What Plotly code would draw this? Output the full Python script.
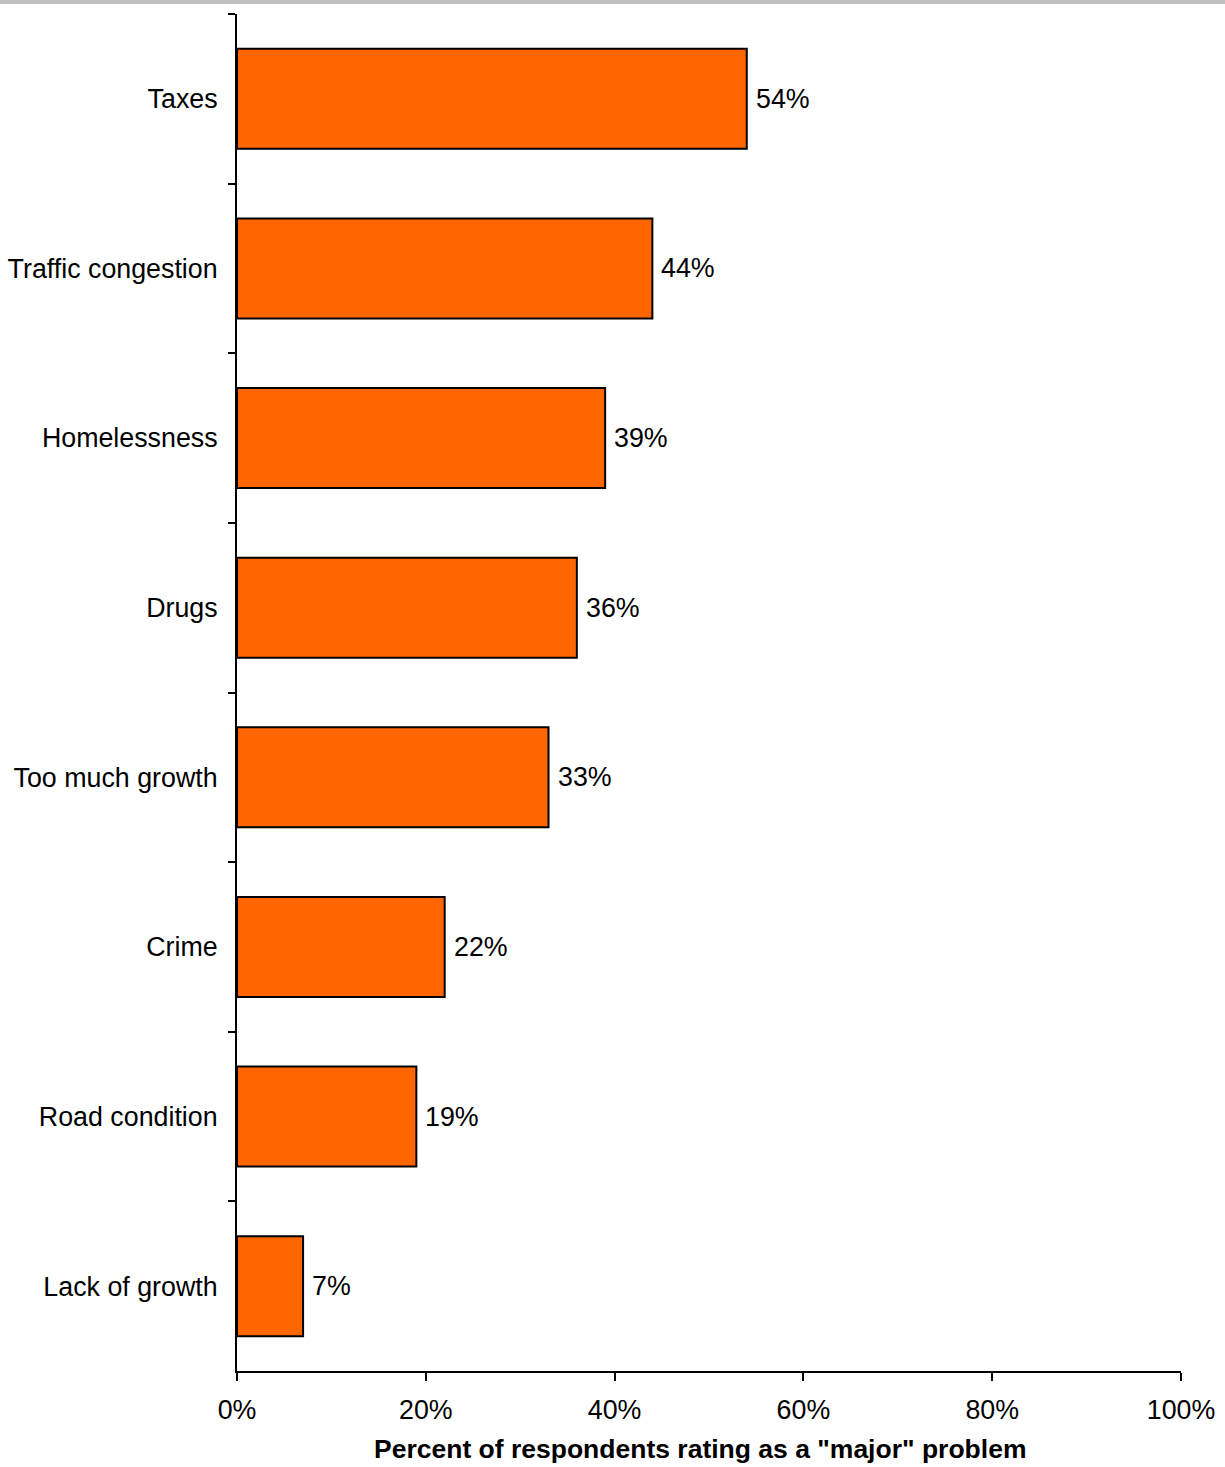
import plotly.graph_objects as go

# Survey results, listed top to bottom
issues = ["Taxes", "Traffic congestion", "Homelessness", "Drugs",
          "Too much growth", "Crime", "Road condition", "Lack of growth"]
pct_major = [54, 44, 39, 36, 33, 22, 19, 7]
x_ticks = [0, 20, 40, 60, 80, 100]
x_title = 'Percent of respondents rating as a "major" problem'

FONT = "Liberation Sans, Arial, sans-serif"
SIZE = 26.8

fig = go.Figure(
    go.Bar(
        x=pct_major,
        y=issues,
        orientation="h",
        marker=dict(color="#FF6600", line=dict(color="black", width=2)),
        hoverinfo="skip",
    )
)

# Value labels just right of each bar end
for name, v in zip(issues, pct_major):
    fig.add_annotation(
        x=v, y=name, text=f"{v}%",
        xanchor="left", yanchor="middle", xshift=7,
        showarrow=False,
        font=dict(family=FONT, size=SIZE, color="black"),
    )

fig.update_layout(
    width=1225,
    height=1467,
    margin=dict(l=237, r=44, t=14, b=96),
    paper_bgcolor="white",
    plot_bgcolor="white",
    bargap=0.41,
    showlegend=False,
    font=dict(family=FONT, size=SIZE, color="black"),
)

fig.update_xaxes(
    range=[0, 100],
    tickvals=x_ticks,
    ticktext=[f"{t}%" for t in x_ticks],
    ticks="outside",
    ticklen=8,
    tickwidth=2,
    tickcolor="black",
    showline=True,
    linecolor="black",
    linewidth=2,
    showgrid=False,
    zeroline=False,
    automargin=False,
    ticklabelstandoff=6,
    tickfont=dict(family=FONT, size=SIZE, color="black"),
)

fig.update_yaxes(
    autorange="reversed",
    tickson="boundaries",
    ticks="outside",
    ticklen=7,
    tickwidth=2,
    tickcolor="black",
    showline=True,
    linecolor="black",
    linewidth=2,
    showgrid=False,
    zeroline=False,
    automargin=False,
    ticklabelstandoff=12,
    tickfont=dict(family=FONT, size=SIZE, color="black"),
)

# Axis title
fig.add_annotation(
    text=f"<b>{x_title}</b>",
    xref="paper", yref="paper",
    x=0.49, y=-0.0575,
    xanchor="center", yanchor="middle",
    showarrow=False,
    font=dict(family=FONT, size=26.5, color="black"),
)

# Grey rule across the top of the page
fig.add_shape(
    type="rect",
    xref="paper", yref="paper",
    x0=-0.26, x1=1.06, y0=1.0074, y1=1.0115,
    fillcolor="#C0C0C0", line=dict(width=0),
    layer="above",
)

fig.write_html("out.html")
